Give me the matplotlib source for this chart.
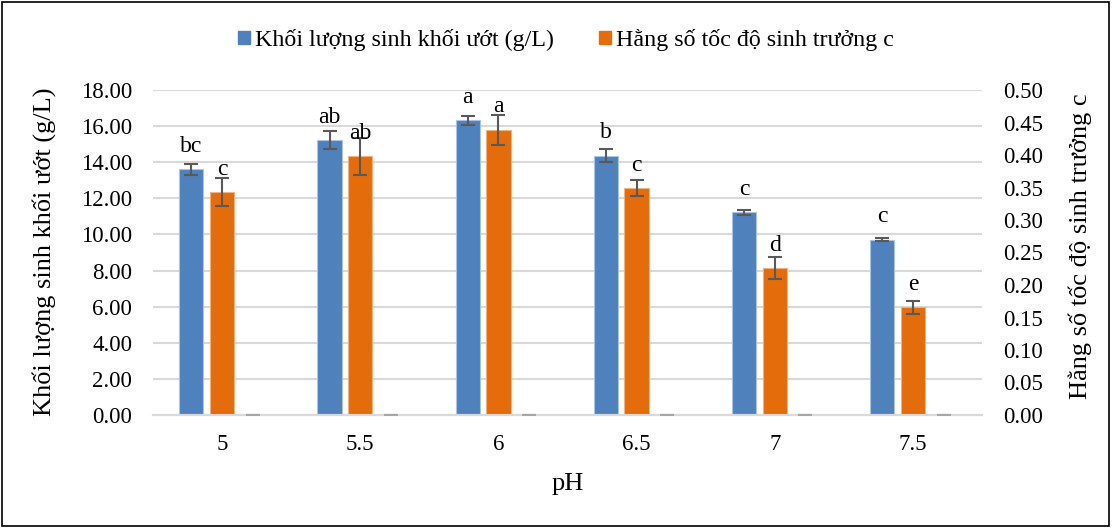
import numpy as np
import matplotlib
matplotlib.use('Agg')
import matplotlib.pyplot as plt
from matplotlib.patches import Rectangle, Patch

ph_labels = ['5', '5.5', '6', '6.5', '7', '7.5']
biomass = [13.60, 15.23, 16.32, 14.36, 11.22, 9.70]
biomass_err = [0.31, 0.50, 0.25, 0.37, 0.13, 0.09]
biomass_letters = ['bc', 'ab', 'a', 'b', 'c', 'c']
growth_c = [0.343, 0.398, 0.439, 0.349, 0.226, 0.166]
growth_err = [0.021, 0.028, 0.023, 0.012, 0.0175, 0.010]
growth_letters = ['c', 'ab', 'a', 'c', 'd', 'e']
empty_series = [0, 0, 0, 0, 0, 0]

BLUE = '#4F81BD'
ORANGE = '#E46C0A'
ERR = '#595959'
GRID = '#D9D9D9'

plt.rcParams['font.family'] = ['Liberation Serif', 'DejaVu Serif']
FS = 16.5

fig = plt.figure(figsize=(11.13, 5.28), dpi=100)
ax = fig.add_axes([153 / 1113, 113 / 528, 829 / 1113, 325 / 528])
ax2 = ax.twinx()

x = np.arange(len(ph_labels))
w = 0.175
off = 0.222

ax.bar(x - off, biomass, w, color=BLUE, edgecolor='#A9C4E4', linewidth=0.8, zorder=2)
ax.errorbar(x - off, biomass, yerr=biomass_err, fmt='none', ecolor=ERR,
            elinewidth=1.5, capsize=4.7, capthick=1.5, zorder=3)
ax2.bar(x, growth_c, w, color=ORANGE, edgecolor='#F2B27E', linewidth=0.8, zorder=2)
ax2.errorbar(x, growth_c, yerr=growth_err, fmt='none', ecolor=ERR,
             elinewidth=1.5, capsize=4.7, capthick=1.5, zorder=3)
# third (empty) series: only its zero-length error bar cap shows at the baseline
ax2.errorbar(x + off, empty_series, yerr=empty_series, fmt='none', ecolor='#A6A6A6',
             elinewidth=1.2, capsize=4.7, capthick=1.5, zorder=3)

for xi, v, t in zip(x - off, biomass, biomass_letters):
    ax.annotate(t, (xi, v), xytext=(0, 12.6), textcoords='offset points',
                ha='center', va='baseline', fontsize=17)
for xi, v, t in zip(x, growth_c, growth_letters):
    ax2.annotate(t, (xi, v), xytext=(0, 12.6), textcoords='offset points',
                 ha='center', va='baseline', fontsize=17)

ax.set_xlim(-0.5, len(ph_labels) - 0.5)
ax.set_ylim(0, 18)
ax.set_yticks(np.arange(0, 18.01, 2))
ax.set_yticklabels([f'{v:.2f}' for v in np.arange(0, 18.01, 2)])
ax2.set_ylim(0, 0.5)
ax2.set_yticks(np.arange(0, 0.501, 0.05))
ax2.set_yticklabels([f'{v:.2f}' for v in np.arange(0, 0.501, 0.05)])
ax.set_xticks(x)
ax.set_xticklabels(ph_labels)

ax.grid(axis='y', color=GRID, linewidth=1.5, zorder=0)
ax.set_axisbelow(True)
for a in (ax, ax2):
    for s in ('top', 'left', 'right'):
        a.spines[s].set_visible(False)
    a.spines['bottom'].set_color(GRID)
    a.spines['bottom'].set_linewidth(1.5)
ax.tick_params(axis='both', length=0, labelsize=FS)
ax.tick_params(axis='y', pad=15)
ax.tick_params(axis='x', pad=14)
ax2.tick_params(axis='y', length=0, labelsize=FS, pad=15)

ax.set_xlabel('pH', fontsize=19)
ax.xaxis.set_label_coords(0.5, -0.178)
ax.set_ylabel('Khối lượng sinh khối ướt (g/L)', fontsize=19)
ax.yaxis.set_label_coords(-0.117, 0.503)
ax2.set_ylabel('Hằng số tốc độ sinh trưởng c', fontsize=19)
ax2.yaxis.set_label_coords(1.104, 0.52)

handles = [Patch(facecolor=BLUE, edgecolor=BLUE), Patch(facecolor=ORANGE, edgecolor=ORANGE)]
fig.legend(handles, ['Khối lượng sinh khối ướt (g/L)', 'Hằng số tốc độ sinh trưởng c'],
           loc='center', bbox_to_anchor=(566 / 1113, 1 - 40 / 528), ncol=2, frameon=False,
           fontsize=17.3, handlelength=0.5, handleheight=0.5, handletextpad=0.2,
           columnspacing=1.9)

fig.add_artist(Rectangle((2 / 1113, 2 / 528), 1107 / 1113, 524 / 528, transform=fig.transFigure,
                         fill=False, edgecolor='black', linewidth=1.2))

fig.savefig('out.png', dpi=100)
